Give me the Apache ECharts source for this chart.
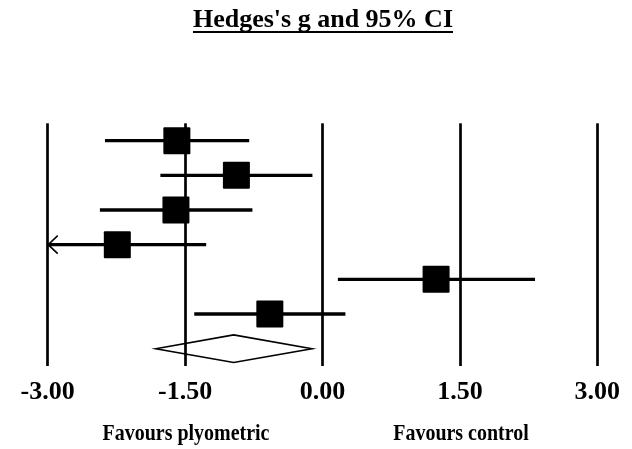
<!DOCTYPE html>
<html>
<head>
<meta charset="utf-8">
<script src="https://cdn.jsdelivr.net/npm/echarts@6/dist/echarts.min.js"></script>
<style>
  html, body { margin: 0; padding: 0; background: #fff; }
  #chart { width: 632px; height: 449px; }
</style>
</head>
<body>
<div id="chart"></div>
<script>
// Forest plot: effect sizes (Hedges's g) with 95% confidence intervals
const titleText = "Hedges's g and 95% CI";
const leftLabel = 'Favours plyometric';
const rightLabel = 'Favours control';

// Axis range and ticks
const xMin = -3;
const xMax = 3;
const xStep = 1.5;

// Individual studies, top to bottom
const studyRow = [1, 2, 3, 4, 5, 6];
const studyEffect = [-1.59, -0.94, -1.60, -2.24, 1.24, -0.575];
const studyLower = [-2.375, -1.77, -2.43, -3.25, 0.168, -1.40];
const studyUpper = [-0.80, -0.11, -0.765, -1.27, 2.32, 0.25];

// Pooled estimate
const pooledRow = 7;
const pooledEffect = -0.97;
const pooledLower = -1.82;
const pooledUpper = -0.115;

const serif = "'Liberation Serif', 'Times New Roman', Times, serif";

const studyData = studyRow.map((r, i) => [r, studyLower[i], studyEffect[i], studyUpper[i]]);
const pooledData = [[pooledRow, pooledLower, pooledEffect, pooledUpper]];

function measure(text, font) {
  const c = document.createElement('canvas').getContext('2d');
  c.font = font;
  return c.measureText(text).width;
}

const chart = echarts.init(document.getElementById('chart'), null, { renderer: 'canvas' });

const titleFont = 'bold 26px ' + serif;
const titleWidth = measure(titleText, titleFont);
const titleX = 323;

chart.setOption({
  animation: false,
  backgroundColor: '#fff',
  grid: { left: 47.7, right: 34.7, top: 123.3, bottom: 83, containLabel: false },
  xAxis: {
    type: 'value',
    min: xMin,
    max: xMax,
    interval: xStep,
    axisLine: { show: false },
    axisTick: { show: false },
    splitLine: { show: true, lineStyle: { color: '#000', width: 2.7 } },
    axisLabel: {
      margin: 13,
      color: '#000',
      fontFamily: serif,
      fontWeight: 'bold',
      fontSize: 26,
      formatter: v => v.toFixed(2)
    }
  },
  yAxis: {
    type: 'value',
    min: 0.5,
    max: 7.5,
    inverse: true,
    show: false,
    splitLine: { show: false }
  },
  graphic: [
    {
      type: 'text',
      x: titleX,
      y: 7,
      style: {
        text: titleText,
        font: titleFont,
        fill: '#000',
        textAlign: 'center',
        textVerticalAlign: 'top'
      }
    },
    {
      type: 'line',
      shape: { x1: titleX - titleWidth / 2, y1: 32, x2: titleX + titleWidth / 2, y2: 32 },
      style: { stroke: '#000', lineWidth: 2 }
    },
    {
      type: 'text',
      x: 186,
      y: 434,
      scaleX: 0.85,
      style: {
        text: leftLabel,
        font: 'bold 23.5px ' + serif,
        fill: '#000',
        textAlign: 'center',
        textVerticalAlign: 'middle'
      }
    },
    {
      type: 'text',
      x: 461,
      y: 434,
      scaleX: 0.85,
      style: {
        text: rightLabel,
        font: 'bold 23.5px ' + serif,
        fill: '#000',
        textAlign: 'center',
        textVerticalAlign: 'middle'
      }
    }
  ],
  series: [
    {
      type: 'custom',
      name: 'studies',
      data: studyData,
      clip: false,
      renderItem(params, api) {
        const row = api.value(0);
        const lo = api.value(1), pt = api.value(2), hi = api.value(3);
        const loC = Math.max(lo, xMin), hiC = Math.min(hi, xMax);
        const a = api.coord([loC, row]);
        const b = api.coord([hiC, row]);
        const c = api.coord([pt, row]);
        const size = 27;
        const children = [
          {
            type: 'line',
            shape: { x1: a[0], y1: a[1], x2: b[0], y2: b[1] },
            style: { stroke: '#000', lineWidth: 3.3 }
          },
          {
            type: 'rect',
            shape: { x: c[0] - size / 2, y: c[1] - size / 2, width: size, height: size, r: 1 },
            style: { fill: '#000' }
          }
        ];
        if (lo < xMin) {
          children.push({
            type: 'polyline',
            shape: { points: [[a[0] + 10, a[1] - 9], [a[0] + 0.5, a[1]], [a[0] + 10, a[1] + 9]] },
            style: { stroke: '#000', fill: null, lineWidth: 1.6 }
          });
        }
        if (hi > xMax) {
          children.push({
            type: 'polyline',
            shape: { points: [[b[0] - 10, b[1] - 9], [b[0] - 0.5, b[1]], [b[0] - 10, b[1] + 9]] },
            style: { stroke: '#000', fill: null, lineWidth: 1.6 }
          });
        }
        return { type: 'group', children };
      }
    },
    {
      type: 'custom',
      name: 'pooled',
      data: pooledData,
      clip: false,
      renderItem(params, api) {
        const row = api.value(0);
        const l = api.coord([api.value(1), row]);
        const m = api.coord([api.value(2), row]);
        const r = api.coord([api.value(3), row]);
        const h = 13.8;
        return {
          type: 'polygon',
          shape: { points: [[l[0], l[1]], [m[0], m[1] - h], [r[0], r[1]], [m[0], m[1] + h]] },
          style: { fill: null, stroke: '#000', lineWidth: 1.6 }
        };
      }
    }
  ]
});
</script>
</body>
</html>
